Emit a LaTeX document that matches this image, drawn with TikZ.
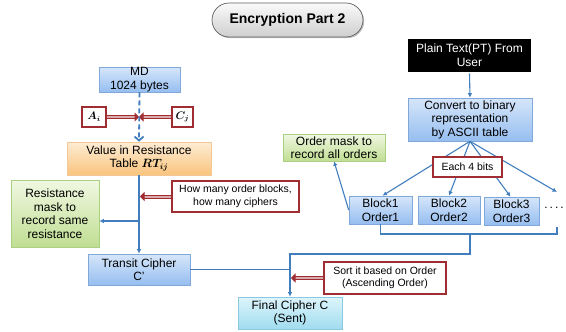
\documentclass[tikz,border=0pt]{standalone}
\usepackage{fontspec}
\setmainfont{Liberation Sans}
\usepackage{bm}
\usetikzlibrary{arrows.meta,shadows}
\definecolor{lblue}{RGB}{66,126,190}
\definecolor{myred}{RGB}{160,45,50}
\definecolor{btop}{RGB}{214,230,250}
\definecolor{bbot}{RGB}{150,190,240}
\definecolor{bbord}{RGB}{128,168,218}
\definecolor{otop}{RGB}{253,236,212}
\definecolor{obot}{RGB}{250,196,126}
\definecolor{obord}{RGB}{244,200,150}
\definecolor{gtop}{RGB}{240,248,226}
\definecolor{gbot}{RGB}{192,222,146}
\definecolor{gbord}{RGB}{170,208,130}
\definecolor{ctop}{RGB}{222,245,252}
\definecolor{cbot}{RGB}{160,220,238}
\definecolor{cbord}{RGB}{140,200,224}
\begin{document}
\begin{tikzpicture}[x=1pt,y=-1pt,
  shad/.style={drop shadow={shadow xshift=1.2pt,shadow yshift=-1.2pt,opacity=0.25,fill=black}},
  box/.style={rectangle, inner sep=0pt, align=center, line width=0.6pt, shad,
    font=\fontsize{12}{13.5}\selectfont},
  bluebox/.style={box, draw=bbord, top color=btop, bottom color=bbot},
  orangebox/.style={box, draw=obord, top color=otop, bottom color=obot},
  greenbox/.style={box, draw=gbord, top color=gtop, bottom color=gbot},
  cyanbox/.style={box, draw=cbord, top color=ctop, bottom color=cbot},
  redbox/.style={rectangle, inner sep=0pt, align=center, draw=myred, line width=1.1pt,
    fill=white, shad, font=\fontsize{10.5}{12.5}\selectfont},
  bline/.style={draw=lblue, line width=1.1pt},
  barr/.style={bline, -{Latex[length=4.5pt,width=4.5pt]}},
  dasharr/.style={draw=lblue, line width=1.8pt, dash pattern=on 5pt off 3pt,
    -{Straight Barb[length=4pt,width=9pt]}},
  redarr/.style={draw=myred, line width=1pt, double=myred!40!white, double distance=2pt,
    -{Triangle[length=4.5pt,width=9pt]}},
  titlebox/.style={rectangle, rounded corners=17pt, draw=gray!75!black, line width=0.7pt,
    top color=gray!4, bottom color=gray!38, shad, inner sep=0pt,
    font=\bfseries\fontsize{14}{16}\selectfont}
]
\useasboundingbox (0,0) rectangle (566,332);

% title
\node[titlebox, minimum width=151pt, minimum height=34pt] (ttl) at (287.5,20) {Encryption Part 2};

% left column
\node[bluebox, minimum width=81pt, minimum height=25pt] (md) at (139.5,79.5) {MD\\1024 bytes};
\node[redbox, minimum width=24pt, minimum height=20pt, font=\fontsize{10.5}{11}\selectfont] (ai) at (94,117) {$\bm{A_i}$};
\node[redbox, minimum width=21pt, minimum height=20pt, font=\fontsize{10.5}{11}\selectfont] (cj) at (182.5,117) {$\bm{C_j}$};
\node[orangebox, minimum width=144pt, minimum height=33pt] (val) at (139,158.5) {Value in Resistance\\Table $\bm{RT_{ij}}$};
\node[greenbox, minimum width=88pt, minimum height=67pt] (resm) at (55,213.5) {Resistance\\mask to\\record same\\resistance};
\node[redbox, minimum width=127pt, minimum height=31pt] (howm) at (235.5,196.5) {How many order blocks,\\how many ciphers};
\node[bluebox, minimum width=102pt, minimum height=31pt] (trans) at (139,269.5) {Transit Cipher\\C’};
\node[cyanbox, minimum width=104pt, minimum height=32pt] (final) at (290,313) {Final Cipher C\\(Sent)};
\node[redbox, minimum width=122pt, minimum height=32pt] (sort) at (385,278) {Sort it based on Order\\(Ascending Order)};

% right column
\node[rectangle, inner sep=0pt, fill=black, draw=white, line width=2pt, text=white, align=center,
  drop shadow={shadow xshift=0.8pt,shadow yshift=-0.8pt,opacity=0.45,fill=black},
  font=\fontsize{12}{13.5}\selectfont, minimum width=125pt, minimum height=35pt] (pt) at (469.5,55) {Plain Text(PT) From\\User};
\node[bluebox, minimum width=124pt, minimum height=43pt] (conv) at (470,119.5) {Convert to binary\\representation\\by ASCII table};
\node[greenbox, minimum width=102pt, minimum height=27pt] (ordm) at (334,147.5) {Order mask to\\record all orders};
\node[bluebox, minimum width=63pt, minimum height=28pt] (b1) at (380.5,210) {Block1\\Order1};
\node[bluebox, minimum width=62pt, minimum height=28pt] (b2) at (449,210) {Block2\\Order2};
\node[bluebox, minimum width=55pt, minimum height=28pt] (b3) at (511.5,211) {Block3\\Order3};
\node[inner sep=0pt, font=\fontsize{12}{13.5}\selectfont] (dots) at (554,208) {.\,.\,.\,.};

% coordinates
\coordinate (x1) at (139,117);
\coordinate (x2) at (139,221);
\coordinate (bc) at (470,234);
\coordinate (br) at (557,234);
\coordinate (dbot) at (557,227);
\coordinate (dtop) at (557,192);
\coordinate (j1) at (470,254);

% left connectors
\draw[redarr] (ai.east) -- (x1);
\draw[redarr] (cj.west) -- (x1);
\draw[dasharr] (md.south) -- (val.north);
\draw[barr] (val.south) -- (trans.north);
\draw[barr] (x2) -- (x2 -| resm.east);
\draw[redarr] (howm.west) -- ([xshift=1pt]howm.west -| val.south);

% bottom connectors
\draw[bline] (b1.south) -- (b1.south |- bc) -- (br) -- (dbot);
\draw[barr] (bc) -- (j1) -- (j1 -| final.north) -- (final.north);
\draw[bline] (trans.east) -- (trans.east -| final.north);
\draw[redarr] (sort.west) -- ([xshift=1pt]sort.west -| final.north);

% right connectors
\draw[barr] (pt.south) -- (conv.north);
\draw[barr] (conv.south) -- ([xshift=2pt]b1.north);
\draw[barr] (conv.south) -- (b2.north);
\draw[barr] (conv.south) -- ([xshift=-1pt]b3.north);
\draw[barr] (conv.south) -- (dtop);
\draw[barr] (b1.west) -- (ordm.south);

\node[redbox, minimum width=69pt, minimum height=20pt] (each) at (467.5,167) {Each 4 bits};
\end{tikzpicture}
\end{document}
